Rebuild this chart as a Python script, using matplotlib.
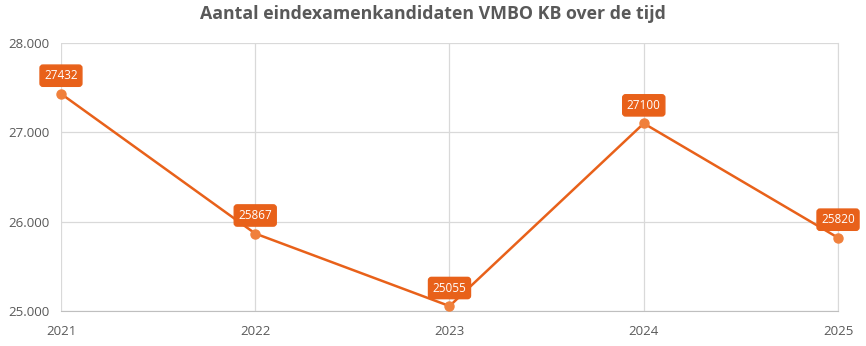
import matplotlib.pyplot as plt

# data
jaren = [2021, 2022, 2023, 2024, 2025]
kandidaten = [27432, 25867, 25055, 27100, 25820]
y_ticks = [25000, 26000, 27000, 28000]
y_labels = ["25.000", "26.000", "27.000", "28.000"]

oranje = '#E8611A'
grijs = '#595959'

plt.rcParams['font.family'] = ['Open Sans', 'DejaVu Sans']

fig = plt.figure(figsize=(8.66, 3.46), dpi=100)
ax = fig.add_axes([0.0704, 0.1012, 0.8973, 0.7745])

ax.plot(jaren, kandidaten, color=oranje, linewidth=1.8, zorder=3, clip_on=False)
ax.plot(jaren, kandidaten, 'o', color='#F0803C', markersize=6.5, zorder=4, clip_on=False)

# labels boven de punten
for x, y in zip(jaren, kandidaten):
    ax.annotate(str(y), (x, y), xytext=(0, 13), textcoords='offset points',
                ha='center', va='center', color='white', fontsize=8.5,
                bbox=dict(boxstyle='round,pad=0.35,rounding_size=0.25',
                          fc=oranje, ec=oranje), zorder=5)

ax.set_xlim(2021, 2025)
ax.set_ylim(25000, 28000)
ax.set_xticks(jaren)
ax.set_xticklabels([str(j) for j in jaren])
ax.set_yticks(y_ticks)
ax.set_yticklabels(y_labels)
ax.tick_params(length=0, labelsize=9.5, colors=grijs, pad=10)
ax.tick_params(axis='y', pad=8)

ax.grid(color='#D9D9D9', linewidth=0.9)
ax.set_axisbelow(True)
for s in ['top', 'left']:
    ax.spines[s].set_visible(False)
ax.spines['right'].set_color('#D9D9D9')
ax.spines['bottom'].set_color('#BFBFBF')

fig.suptitle("Aantal eindexamenkandidaten VMBO KB over de tijd",
             x=0.5, y=0.985, fontsize=12.8, fontweight='bold', color=grijs)

fig.savefig('out.png', dpi=100)
